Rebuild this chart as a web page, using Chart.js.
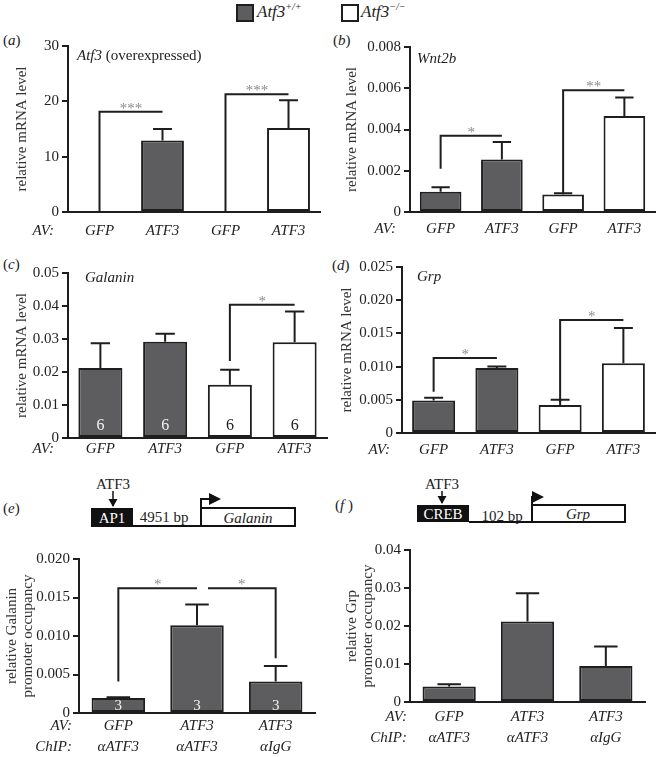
<!DOCTYPE html>
<html>
<head>
<meta charset="utf-8">
<script src="https://cdn.jsdelivr.net/npm/chart.js"></script>
<style>
  body { margin: 0; width: 662px; height: 757px; position: relative; overflow: hidden; background: #fff;
         font-family: "Liberation Serif", "Times New Roman", serif; color: #222; }
  canvas { position: absolute; }
  .tag { position: absolute; font-size: 15px; }
  .tag i { font-style: italic; }
  .key { position: absolute; top: 4px; width: 14px; height: 14px; border: 2px solid #1e1e1e; }
  .keytxt { position: absolute; top: 1px; font-size: 17px; font-style: italic; }
  .keytxt sup { font-size: 10px; }
  svg { position: absolute; left: 0; top: 0; }
</style>
</head>
<body>

<div class="key" style="left:236px;background:#5d5d60"></div>
<div class="keytxt" style="left:257px">Atf3<sup>+/+</sup></div>
<div class="key" style="left:341px;background:#fff"></div>
<div class="keytxt" style="left:361px">Atf3<sup>−/−</sup></div>

<div class="tag" style="left:3px;top:32px">(<i>a</i>)</div>
<div class="tag" style="left:333px;top:32px">(<i>b</i>)</div>
<div class="tag" style="left:3px;top:256px">(<i>c</i>)</div>
<div class="tag" style="left:332px;top:257px">(<i>d</i>)</div>
<div class="tag" style="left:3px;top:500px">(<i>e</i>)</div>
<div class="tag" style="left:335px;top:497px">(<i>f</i> )</div>

<!-- promoter diagrams -->
<svg width="662" height="757" font-family="Liberation Serif, Times New Roman, serif">
  <defs>
    <marker id="hd" markerWidth="6" markerHeight="6" refX="5" refY="3" orient="auto" markerUnits="strokeWidth">
      <path d="M0,0 L6,3 L0,6 z" fill="#111"/>
    </marker>
  </defs>
  <!-- e -->
  <text x="113" y="489" font-size="15" text-anchor="middle" fill="#222">ATF3</text>
  <line x1="113" y1="491" x2="113" y2="506" stroke="#111" stroke-width="1.5"/>
  <path d="M108.5,499 L113,507 L117.5,499 z" fill="#111"/>
  <rect x="91" y="508" width="42" height="18" fill="#111"/>
  <text x="112" y="523" font-size="15" text-anchor="middle" fill="#fff">AP1</text>
  <line x1="91" y1="526" x2="201" y2="526" stroke="#111" stroke-width="2"/>
  <text x="164" y="522" font-size="15" text-anchor="middle" fill="#222">4951 bp</text>
  <rect x="201" y="508" width="94" height="18" fill="#fff" stroke="#111" stroke-width="2"/>
  <text x="248" y="523" font-size="15" font-style="italic" text-anchor="middle" fill="#222">Galanin</text>
  <polyline points="201,508 201,499 219,499" fill="none" stroke="#111" stroke-width="2" marker-end="url(#hd)"/>
  <!-- f -->
  <text x="442" y="489" font-size="15" text-anchor="middle" fill="#222">ATF3</text>
  <line x1="442" y1="491" x2="442" y2="503" stroke="#111" stroke-width="1.5"/>
  <path d="M437.5,496 L442,504 L446.5,496 z" fill="#111"/>
  <rect x="417" y="505" width="52" height="17" fill="#111"/>
  <text x="443" y="519" font-size="15" text-anchor="middle" fill="#fff">CREB</text>
  <line x1="469" y1="522" x2="532" y2="522" stroke="#111" stroke-width="2"/>
  <text x="502" y="521" font-size="15" text-anchor="middle" fill="#222">102 bp</text>
  <rect x="532" y="505" width="93" height="17" fill="#fff" stroke="#111" stroke-width="2"/>
  <text x="578" y="519" font-size="15" font-style="italic" text-anchor="middle" fill="#222">Grp</text>
  <polyline points="532,505 532,497 542,497" fill="none" stroke="#111" stroke-width="2" marker-end="url(#hd)"/>
</svg>

<script>
// ---- data ----
const avLabels = ['GFP', 'ATF3', 'GFP', 'ATF3'];
const genotypes = ['+/+', '+/+', '-/-', '-/-'];
const chipAvLabels = ['GFP', 'ATF3', 'ATF3'];
const chipAbLabels = ['αATF3', 'αATF3', 'αIgG'];

// (a) Atf3 overexpressed
const atf3Mean = [0, 12.9, 0, 15.2];
const atf3Sem = [0, 2.1, 0, 5.0];
// (b) Wnt2b
const wnt2bMean = [0.00098, 0.00255, 0.00085, 0.00465];
const wnt2bSem = [0.00022, 0.00085, 0.00006, 0.0009];
// (c) Galanin
const galaninMean = [0.0212, 0.0292, 0.0161, 0.029];
const galaninSem = [0.0075, 0.0024, 0.0046, 0.0093];
const galaninN = [6, 6, 6, 6];
// (d) Grp
const grpMean = [0.0049, 0.0098, 0.0042, 0.0105];
const grpSem = [0.0004, 0.0002, 0.0008, 0.0053];
// (e) Galanin promoter ChIP
const galChipMean = [0.00195, 0.0114, 0.0041];
const galChipSem = [0.0001, 0.0027, 0.002];
const galChipN = [3, 3, 3];
// (f) Grp promoter ChIP
const grpChipMean = [0.0041, 0.0212, 0.0095];
const grpChipSem = [0.0006, 0.0074, 0.0051];

// significance brackets (left / right = value where the leg ends, null = no leg)
const atf3Sig = [
  { from: 0, to: 1, y: 18.1, left: 0, right: null, mark: '***' },
  { from: 2, to: 3, y: 21.3, left: 0, right: null, mark: '***' }
];
const wnt2bSig = [
  { from: 0, to: 1, y: 0.0037, left: 0.0021, right: null, mark: '*' },
  { from: 2, to: 3, y: 0.0059, left: 0.0009, right: null, mark: '**' }
];
const galaninSig = [
  { from: 2, to: 3, y: 0.0404, left: 0.0233, right: null, mark: '*' }
];
const grpSig = [
  { from: 0, to: 1, y: 0.0113, left: 0.0062, right: null, mark: '*' },
  { from: 2, to: 3, y: 0.017, left: 0.0046, right: null, mark: '*' }
];
const galChipSig = [
  { from: 0, to: 1, y: 0.0162, left: 0.0041, right: null, mark: '*' },
  { from: 1, to: 2, y: 0.0162, left: null, right: 0.0071, mark: '*' }
];

// ---- styling ----
const INK = '#1e1e1e';
const DARK = '#5d5d60';
const SERIF = '"Liberation Serif", "Times New Roman", serif';
const genoFill = genotypes.map(g => (g === '+/+' ? DARK : '#ffffff'));
const chipFill = chipAvLabels.map(() => DARK);

function makePanel(p) {
  const cv = document.createElement('canvas');
  cv.width = p.box.w;
  cv.height = p.box.h;
  cv.style.left = p.box.x + 'px';
  cv.style.top = p.box.y + 'px';
  document.body.appendChild(cv);

  const tickLH = p.tickLH || 1.2;
  const titleLH = 16.5;

  const extras = {
    id: 'extras',
    afterDraw(chart) {
      const { ctx, scales: { y } } = chart;
      const meta = chart.getDatasetMeta(0);
      const area = chart.chartArea;
      ctx.save();
      ctx.strokeStyle = INK;
      ctx.lineWidth = 2;

      // error bars (upper only)
      p.sem.forEach((s, i) => {
        const bar = meta.data[i];
        const y0 = y.getPixelForValue(p.mean[i]);
        const y1 = y.getPixelForValue(p.mean[i] + s);
        const half = bar.width * 0.22;
        ctx.beginPath();
        ctx.moveTo(bar.x, y0);
        ctx.lineTo(bar.x, y1);
        ctx.moveTo(bar.x - half, y1);
        ctx.lineTo(bar.x + half, y1);
        ctx.stroke();
      });

      // n per bar
      if (p.n) {
        ctx.font = p.nSize + 'px ' + SERIF;
        ctx.textAlign = 'center';
        ctx.textBaseline = 'middle';
        p.n.forEach((n, i) => {
          const bar = meta.data[i];
          ctx.fillStyle = p.fill[i] === DARK ? '#f2f2f2' : '#222';
          ctx.fillText(String(n), bar.x, area.bottom - p.nLift);
        });
      }

      // significance brackets
      (p.sig || []).forEach(b => {
        let x1 = meta.data[b.from].x;
        const x2 = meta.data[b.to].x;
        if (b.left === null) x1 += 11;
        const yl = y.getPixelForValue(b.y);
        ctx.beginPath();
        if (b.left !== null) {
          ctx.moveTo(x1, y.getPixelForValue(b.left));
          ctx.lineTo(x1, yl);
        } else {
          ctx.moveTo(x1, yl);
        }
        ctx.lineTo(x2, yl);
        if (b.right !== null) ctx.lineTo(x2, y.getPixelForValue(b.right));
        ctx.stroke();
        ctx.fillStyle = '#8a8a8a';
        ctx.font = '15px ' + SERIF;
        ctx.textAlign = 'center';
        ctx.textBaseline = 'alphabetic';
        ctx.fillText(b.mark, (x1 + x2) / 2, yl + 1);
      });

      // gene name inside plot
      if (p.gene) {
        let gx = area.left + p.geneDx;
        ctx.textAlign = 'left';
        ctx.textBaseline = 'middle';
        ctx.fillStyle = '#222';
        p.gene.forEach(part => {
          ctx.font = (part.i ? 'italic ' : '') + '15px ' + SERIF;
          ctx.fillText(part.t, gx, area.top + p.geneDy);
          gx += ctx.measureText(part.t).width;
        });
      }

      // row labels (AV:, ChIP:)
      ctx.font = 'italic 15px ' + SERIF;
      ctx.textAlign = 'right';
      ctx.textBaseline = 'middle';
      ctx.fillStyle = '#222';
      const lh = 15 * tickLH;
      p.rows.forEach((r, k) => {
        ctx.fillText(r, area.left - p.rowGap, area.bottom + p.xPad + lh / 2 + k * lh);
      });
      ctx.restore();
    }
  };

  new Chart(cv, {
    type: 'bar',
    data: {
      labels: p.labels,
      datasets: [{
        data: p.mean,
        backgroundColor: p.fill,
        borderColor: INK,
        borderWidth: 2,
        borderSkipped: false,
        categoryPercentage: 1,
        barPercentage: 0.68
      }]
    },
    options: {
      responsive: false,
      animation: false,
      devicePixelRatio: 1,
      layout: { padding: { top: p.area.t - p.box.y, right: p.box.x + p.box.w - p.area.r, left: 0, bottom: 0 } },
      plugins: { legend: { display: false }, tooltip: { enabled: false } },
      scales: {
        x: {
          grid: { display: false, drawTicks: false },
          border: { display: true, color: INK, width: 2 },
          ticks: {
            color: '#222',
            padding: p.xPad,
            maxRotation: 0,
            autoSkip: false,
            font: { family: SERIF, size: 15, style: 'italic', lineHeight: tickLH }
          },
          afterFit: s => { s.height = p.box.y + p.box.h - p.area.b; }
        },
        y: {
          min: 0,
          max: p.max,
          grid: { drawOnChartArea: false, drawTicks: true, tickLength: 6, color: INK, lineWidth: 2 },
          border: { display: true, color: INK, width: 2 },
          ticks: {
            stepSize: p.step,
            autoSkip: false,
            color: '#222',
            padding: 3,
            font: { family: SERIF, size: 15 },
            callback: v => (v === 0 ? '0' : Number(v).toFixed(p.dec))
          },
          title: {
            display: true,
            text: p.yTitle,
            color: '#333',
            font: { family: SERIF, size: 15, lineHeight: titleLH / 15 },
            padding: { top: p.titleX - p.box.x - titleLH / 2, bottom: 0 }
          },
          afterFit: s => { s.width = p.area.l - p.box.x; }
        }
      }
    },
    plugins: [extras]
  });
}

// (a)
makePanel({
  box: { x: 0, y: 30, w: 330, h: 215 }, area: { l: 68, t: 46, r: 320, b: 212 },
  labels: avLabels, mean: atf3Mean, sem: atf3Sem, fill: genoFill,
  max: 30, step: 10, dec: 0, yTitle: 'relative mRNA level', titleX: 22,
  gene: [{ t: 'Atf3', i: true }, { t: ' (overexpressed)', i: false }], geneDx: 9, geneDy: 10,
  xPad: 10, rows: ['AV:'], rowGap: 14, sig: atf3Sig
});
// (b)
makePanel({
  box: { x: 330, y: 30, w: 332, h: 215 }, area: { l: 410, t: 47, r: 655, b: 212 },
  labels: avLabels, mean: wnt2bMean, sem: wnt2bSem, fill: genoFill,
  max: 0.008, step: 0.002, dec: 3, yTitle: 'relative mRNA level', titleX: 352,
  gene: [{ t: 'Wnt2b', i: true }], geneDx: 7, geneDy: 12,
  xPad: 8, rows: ['AV:'], rowGap: 14, sig: wnt2bSig
});
// (c)
makePanel({
  box: { x: 0, y: 258, w: 330, h: 205 }, area: { l: 68, t: 273, r: 327, b: 438 },
  labels: avLabels, mean: galaninMean, sem: galaninSem, fill: genoFill,
  max: 0.05, step: 0.01, dec: 2, yTitle: 'relative mRNA level', titleX: 22,
  gene: [{ t: 'Galanin', i: true }], geneDx: 17, geneDy: 5,
  xPad: 2, rows: ['AV:'], rowGap: 14, sig: galaninSig,
  n: galaninN, nSize: 16, nLift: 12
});
// (d)
makePanel({
  box: { x: 330, y: 255, w: 332, h: 210 }, area: { l: 402, t: 267, r: 655, b: 433 },
  labels: avLabels, mean: grpMean, sem: grpSem, fill: genoFill,
  max: 0.025, step: 0.005, dec: 3, yTitle: 'relative mRNA level', titleX: 347,
  gene: [{ t: 'Grp', i: true }], geneDx: 15, geneDy: 10,
  xPad: 8, rows: ['AV:'], rowGap: 12, sig: grpSig
});
// (e)
makePanel({
  box: { x: 0, y: 545, w: 330, h: 212 }, area: { l: 79, t: 559, r: 315, b: 713 },
  labels: chipAvLabels.map((a, i) => [a, chipAbLabels[i]]), mean: galChipMean, sem: galChipSem, fill: chipFill,
  max: 0.02, step: 0.005, dec: 3, yTitle: ['relative Galanin', 'promoter occupancy'], titleX: 12,
  xPad: 3, tickLH: 1.4, rows: ['AV:', 'ChIP:'], rowGap: 7, sig: galChipSig,
  n: galChipN, nSize: 15, nLift: 7
});
// (f)
makePanel({
  box: { x: 330, y: 535, w: 332, h: 222 }, area: { l: 410, t: 550, r: 645, b: 702 },
  labels: chipAvLabels.map((a, i) => [a, chipAbLabels[i]]), mean: grpChipMean, sem: grpChipSem, fill: chipFill,
  max: 0.04, step: 0.01, dec: 2, yTitle: ['relative Grp', 'promoter occupancy'], titleX: 352,
  xPad: 5, tickLH: 1.4, rows: ['AV:', 'ChIP:'], rowGap: 3
});
</script>
</body>
</html>
